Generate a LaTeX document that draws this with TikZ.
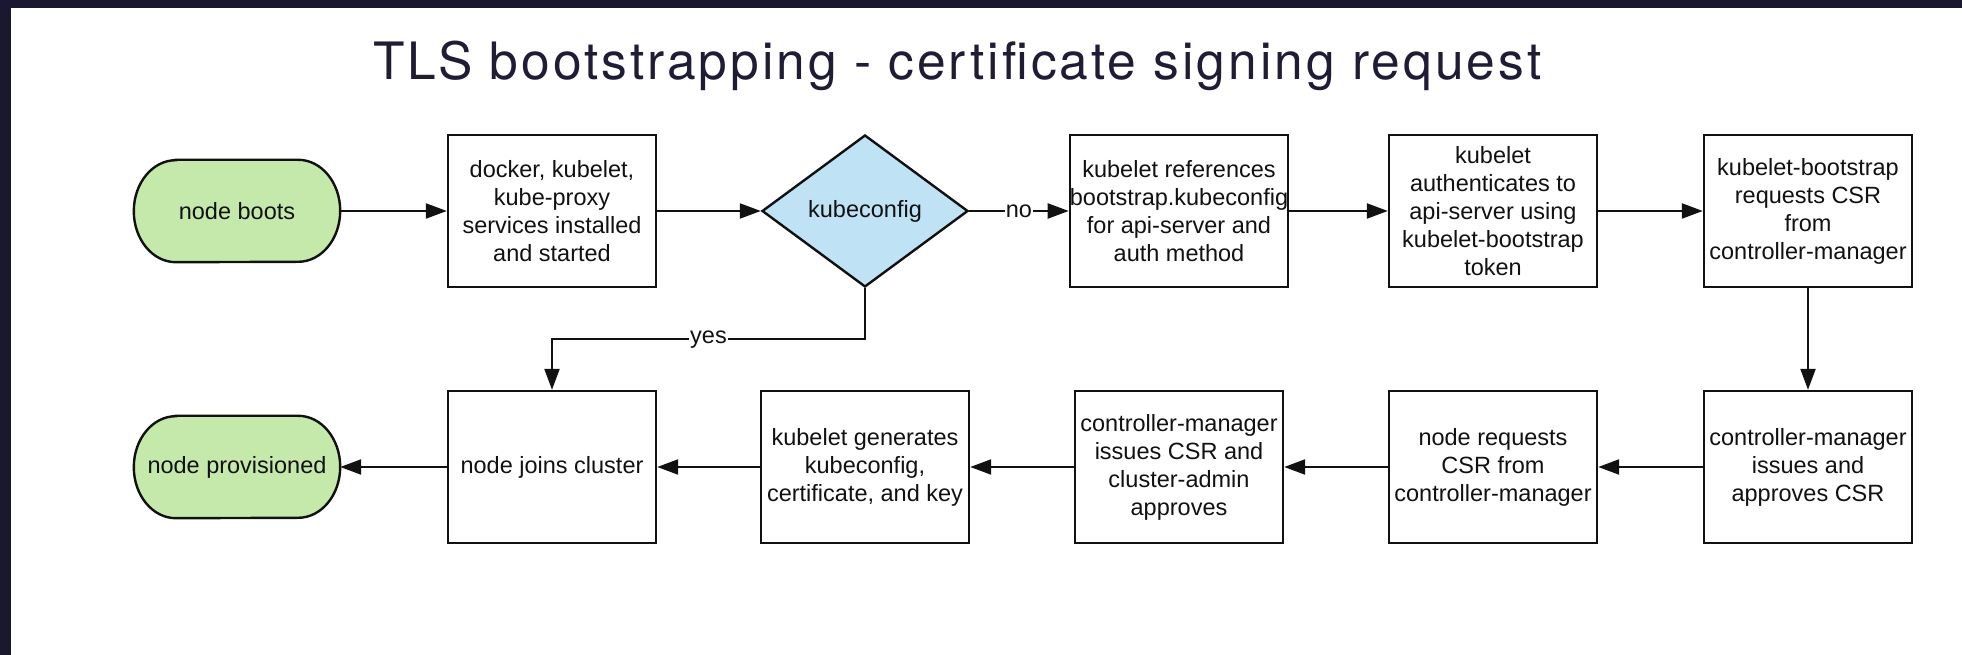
\documentclass[tikz,border=0pt]{standalone}
\usepackage{fontspec}
\setmainfont{Liberation Sans}
\newfontfamily\titlefont{TeX Gyre Heros}[LetterSpace=5.8]
\usetikzlibrary{shapes.geometric,arrows.meta}

\definecolor{frameink}{HTML}{1A1830}
\definecolor{termgreen}{HTML}{C5E8AB}
\definecolor{decblue}{HTML}{C0E2F5}
\definecolor{titleink}{HTML}{1F1D36}
\definecolor{ink}{HTML}{111111}

\newcommand\boxtext{\fontsize{23.5}{28}\selectfont}

\begin{document}
\begin{tikzpicture}[x=1pt,y=1pt,
  stepbox/.style={draw=ink, line width=2.4pt, fill=white, minimum width=208pt,
    minimum height=152pt, inner sep=0pt, align=center, font=\boxtext, text=ink},
  termnode/.style={minimum width=206pt, minimum height=102pt, inner sep=0pt,
    align=center, font=\boxtext, text=ink},
  termshape/.style={draw=ink, line width=2.4pt, fill=termgreen},
  decision/.style={diamond, aspect=1.36, draw=ink, line width=2.4pt, fill=decblue,
    minimum width=206pt, minimum height=152pt, inner sep=0pt, font=\boxtext, text=ink},
  flow/.style={draw=ink, line width=2.2pt, -{Triangle[length=21pt,width=15pt]}},
  flowlabel/.style={fill=white, inner sep=1pt, font=\boxtext, text=ink},
]
% page background and white panel
\fill[frameink] (0,0) rectangle (1962,655);
\fill[white] (11,0) rectangle (1962,647);
\useasboundingbox (0,0) rectangle (1962,655);

% title
\node[anchor=base west, inner sep=0pt, text=titleink,
  font=\titlefont\fontsize{51.5}{60}\selectfont] (title) at (373,575)
  {TLS bootstrapping - certificate signing request};

% terminals
\node[termnode] (boot) at (237,444) {};
\node[termnode] (prov) at (237,188) {};
\foreach \t in {boot,prov}{
  \draw[termshape] ([xshift=42pt]\t.north west) -- ([xshift=-42pt]\t.north east)
    arc[start angle=90, end angle=-90, x radius=42pt, y radius=51pt]
    -- ([xshift=42pt]\t.south west)
    arc[start angle=270, end angle=90, x radius=42pt, y radius=51pt] -- cycle;
}
\node[termnode] at (boot) {node boots};
\node[termnode] at (prov) {node provisioned};

% upper row
\node[stepbox] (svc) at (552,444) {docker, kubelet,\\kube-proxy\\services installed\\and started};
\node[decision] (dec) at (865,444) {kubeconfig};
\node[stepbox] (ref) at (1179,444) {kubelet references\\bootstrap.kubeconfig\\for api-server and\\auth method};
\node[stepbox] (auth) at (1493,444) {kubelet\\authenticates to\\api-server using\\kubelet-bootstrap\\token};
\node[stepbox] (req) at (1808,444) {kubelet-bootstrap\\requests CSR\\from\\controller-manager};

% lower row
\node[stepbox] (appr) at (1808,188) {controller-manager\\issues and\\approves CSR};
\node[stepbox] (nreq) at (1493,188) {node requests\\CSR from\\controller-manager};
\node[stepbox] (admin) at (1179,188) {controller-manager\\issues CSR and\\cluster-admin\\approves};
\node[stepbox] (gen) at (865,188) {kubelet generates\\kubeconfig,\\certificate, and key};
\node[stepbox] (join) at (552,188) {node joins cluster};

% connectors
\draw[flow] (boot.east) -- (svc.west);
\draw[flow] (svc.east) -- (dec.west);
\draw[flow] (dec.east) -- node[flowlabel] {no} (ref.west);
\draw[flow] (ref.east) -- (auth.west);
\draw[flow] (auth.east) -- (req.west);
\draw[flow] (req.south) -- (appr.north);
\draw[flow] (appr.west) -- (nreq.east);
\draw[flow] (nreq.west) -- (admin.east);
\draw[flow] (admin.west) -- (gen.east);
\draw[flow] (gen.west) -- (join.east);
\draw[flow] (join.west) -- (prov.east);
\draw[flow] (dec.south) -- ++(0,-51) -| node[flowlabel, pos=0.25] {yes} (join.north);
\end{tikzpicture}
\end{document}
